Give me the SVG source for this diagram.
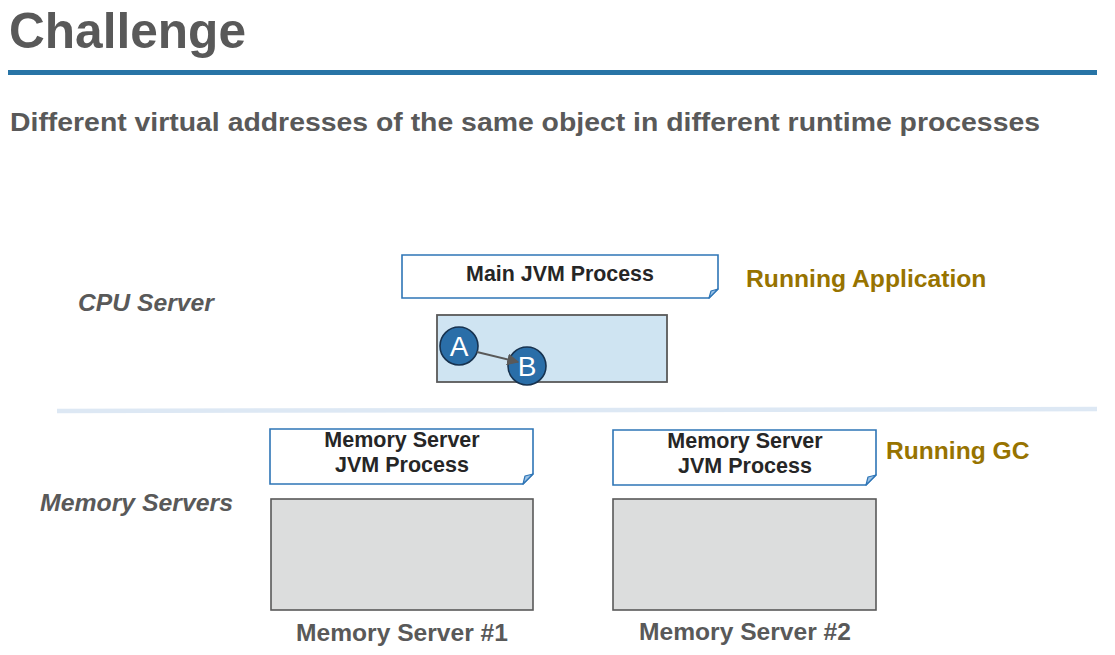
<svg xmlns="http://www.w3.org/2000/svg" width="1115" height="655" viewBox="0 0 1115 655">
<defs>
<style>
.t{font-family:"Liberation Sans",Arial,sans-serif;font-weight:bold;}
.gray{fill:#595959;}
.dark{fill:#262626;}
.gold{fill:#977300;}
.note{fill:#ffffff;stroke:#2e75b6;stroke-width:1.6;}
.fold{fill:#9dc3e6;stroke:#2e75b6;stroke-width:1.2;stroke-linejoin:round;}
.mem{fill:#dcdddd;stroke:#595959;stroke-width:1.6;}
.circ{fill:#2a6ea8;stroke:#17324f;stroke-width:1.6;}
.ct{font-family:"Liberation Sans",Arial,sans-serif;font-size:28px;fill:#ffffff;text-anchor:middle;}
</style>
<marker id="arr" viewBox="0 0 10 10" refX="9" refY="5" markerWidth="6" markerHeight="6" orient="auto">
<path d="M0,0 L10,5 L0,10 Z" fill="#595959"/>
</marker>
</defs>
<rect width="1115" height="655" fill="#ffffff"/>
<text class="t gray" x="9" y="48" font-size="49.6">Challenge</text>
<rect x="8" y="70" width="1089" height="5" fill="#2874a6"/>
<text class="t gray" x="10" y="131" font-size="26" textLength="1030" lengthAdjust="spacingAndGlyphs">Different virtual addresses of the same object in different runtime processes</text>
<line x1="57" y1="411" x2="1097" y2="409" stroke="#dde8f4" stroke-width="4.5"/>
<text class="t gray" x="78" y="311" font-size="24.7" font-style="italic">CPU Server</text>
<text class="t gray" x="40" y="511" font-size="24.8" font-style="italic">Memory Servers</text>
<g id="main-jvm">
<path class="note" d="M402,255 H718 V289 L709,298 H402 Z"/>
<path class="fold" d="M709,298 L711,291 L718,289 Z"/>
<text class="t dark" x="560" y="281" font-size="21.4" text-anchor="middle">Main JVM Process</text>
</g>
<text id="running-app" class="t gold" x="746" y="287" font-size="24.7">Running Application</text>
<g id="cpu-heap">
<rect x="437" y="315" width="230" height="67" fill="#cfe4f2" stroke="#595959" stroke-width="1.8"/>
</g>
<g id="node-a">
<circle class="circ" cx="459" cy="346" r="19"/>
<text class="ct" x="459" y="356">A</text>
</g>
<g id="node-b">
<circle class="circ" cx="527" cy="366" r="19"/>
<text class="ct" x="527" y="376">B</text>
</g>
<g id="connectors">
<line x1="477" y1="352" x2="518" y2="362" stroke="#595959" stroke-width="2" marker-end="url(#arr)"/>
</g>
<g id="ms1-jvm">
<path class="note" d="M270,429 H533 V474 L523,484 H270 Z"/>
<path class="fold" d="M523,484 L525,476 L533,474 Z"/>
<text class="t dark" x="402" y="447" font-size="21.5" text-anchor="middle">Memory Server</text>
<text class="t dark" x="402" y="472" font-size="21.5" text-anchor="middle">JVM Process</text>
</g>
<g id="ms2-jvm">
<path class="note" d="M613,430 H876 V475 L866,485 H613 Z"/>
<path class="fold" d="M866,485 L868,477 L876,475 Z"/>
<text class="t dark" x="745" y="448" font-size="21.5" text-anchor="middle">Memory Server</text>
<text class="t dark" x="745" y="473" font-size="21.5" text-anchor="middle">JVM Process</text>
</g>
<text id="running-gc" class="t gold" x="886" y="459" font-size="24.6">Running GC</text>
<g id="ms1-heap">
<rect class="mem" x="271" y="499" width="262" height="111"/>
</g>
<g id="ms2-heap">
<rect class="mem" x="613" y="499" width="263" height="111"/>
</g>
<text class="t gray" x="402" y="641" font-size="24.6" text-anchor="middle">Memory Server #1</text>
<text class="t gray" x="745" y="640" font-size="24.6" text-anchor="middle">Memory Server #2</text>
</svg>
